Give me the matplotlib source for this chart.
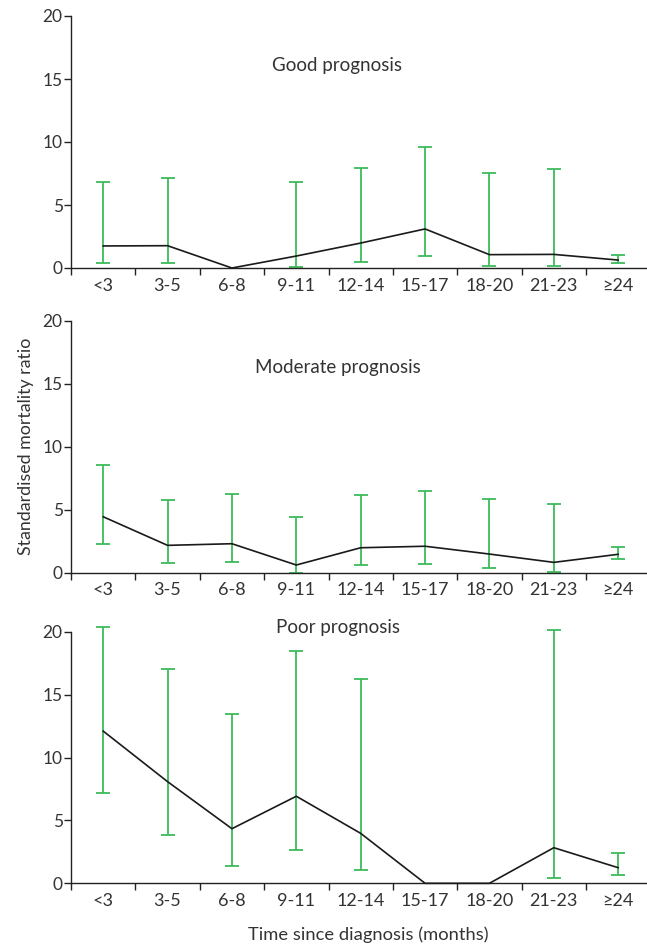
import matplotlib
matplotlib.use("Agg")
import matplotlib.pyplot as plt
import numpy as np

plt.rcParams['font.family'] = ['Lato', 'DejaVu Sans']

categories = ["<3", "3-5", "6-8", "9-11", "12-14", "15-17", "18-20", "21-23", "\u226524"]

good_smr = [1.75, 1.77, 0.0, 0.95, 1.98, 3.1, 1.06, 1.08, 0.63]
good_lo = [0.42, 0.42, None, 0.10, 0.48, 0.98, 0.13, 0.13, 0.37]
good_hi = [6.85, 7.14, None, 6.80, 7.96, 9.6, 7.56, 7.83, 1.06]

mod_smr = [4.44, 2.17, 2.30, 0.61, 1.98, 2.10, 1.48, 0.82, 1.46]
mod_lo = [2.30, 0.79, 0.87, 0.0, 0.61, 0.69, 0.37, 0.05, 1.06]
mod_hi = [8.52, 5.75, 6.22, 4.40, 6.17, 6.48, 5.85, 5.48, 2.01]

poor_smr = [12.1, 8.08, 4.34, 6.92, 3.97, 0.0, 0.0, 2.83, 1.24]
poor_lo = [7.18, 3.86, 1.40, 2.62, 1.06, None, None, 0.42, 0.64]
poor_hi = [20.4, 17.0, 13.43, 18.5, 16.27, None, None, 20.1, 2.43]

titles = ["Good prognosis", "Moderate prognosis", "Poor prognosis"]
y_ticks = [0, 5, 10, 15, 20]

W, H = 647, 946
fig = plt.figure(figsize=(W / 100, H / 100), dpi=100)

green = "#3dbb5a"
txt = "#333333"

panels = [
    (good_smr, good_lo, good_hi, 268.0, 16.0, 65),
    (mod_smr, mod_lo, mod_hi, 572.7, 320.7, 368),
    (poor_smr, poor_lo, poor_hi, 883.3, 631.7, 627),
]

x_left = 71
x_right = 71 + 9 * 64.375
x = np.arange(len(categories))

axes = []
for i, (smr, lo, hi, ybot, ytop, ty) in enumerate(panels):
    ax = fig.add_axes([x_left / W, (H - ybot) / H, (x_right - x_left) / W, (ybot - ytop) / H])
    axes.append(ax)
    ax.set_xlim(-0.5, len(categories) - 0.5)
    ax.set_ylim(0, 20)
    for xi, m, l, h in zip(x, smr, lo, hi):
        if l is None:
            continue
        ax.errorbar([xi], [m], yerr=[[m - l], [h - m]], fmt='none', ecolor=green,
                    elinewidth=1.3, capsize=5, capthick=1.3, clip_on=False, zorder=2)
    ax.plot(x, smr, color="#1a1a1a", lw=1.2, clip_on=False, zorder=3)
    for s in ["top", "right"]:
        ax.spines[s].set_visible(False)
    for s in ["left", "bottom"]:
        ax.spines[s].set_color("#222222")
        ax.spines[s].set_linewidth(1.0)
    ax.set_yticks(y_ticks)
    ax.set_yticklabels([str(v) for v in y_ticks], fontsize=12.5, color=txt)
    ax.set_xticks(np.arange(-0.5, len(categories) - 0.5, 1.0))
    ax.set_xticklabels([])
    ax.set_xticks(x, minor=True)
    ax.set_xticklabels(categories, minor=True, fontsize=13, color=txt,
                       family=['Lato', 'DejaVu Sans'])
    ax.tick_params(axis='x', which='minor', length=0, pad=7)
    ax.tick_params(axis='x', which='major', length=5, width=1.0, color="#222222")
    ax.tick_params(axis='y', length=5, width=1.0, color="#222222", pad=1)
    ax.patch.set_alpha(0)
    fig.text(337.5 / W, 1 - ty / H, titles[i], ha='center', va='center', fontsize=13.5, color=txt)

axes[1].set_ylabel("Standardised mortality ratio", fontsize=12.8, color=txt, labelpad=6)
fig.text(368 / W, 1 - 935 / H, "Time since diagnosis (months)", ha='center', va='center',
         fontsize=13.2, color=txt)

fig.savefig("out.png", dpi=100)
